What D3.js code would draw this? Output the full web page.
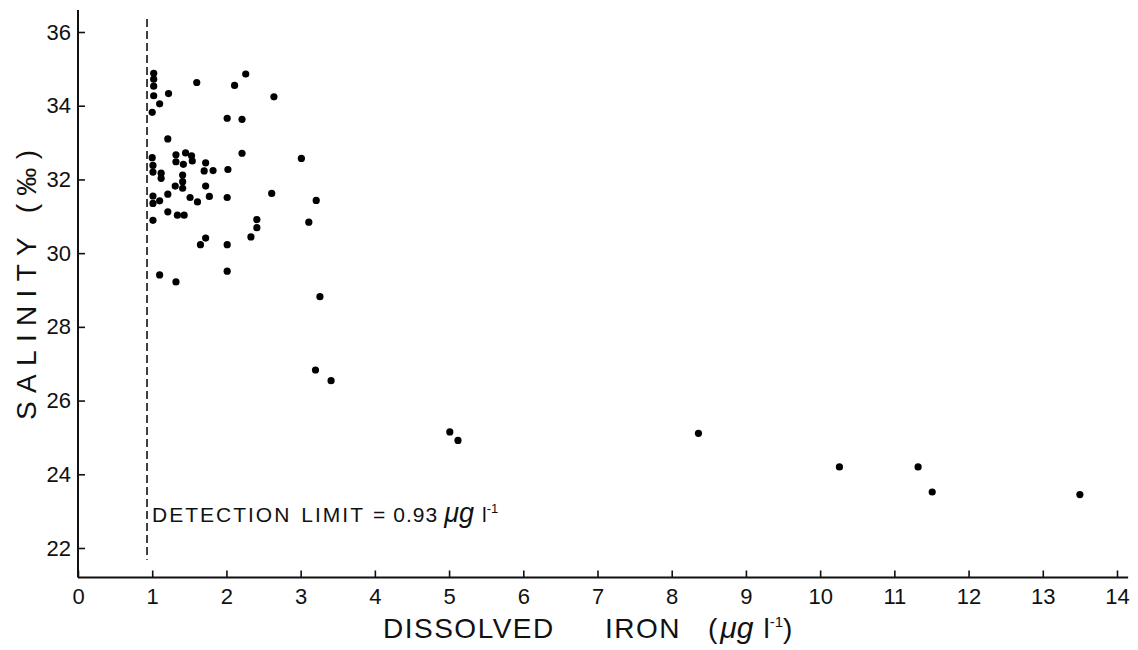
<!DOCTYPE html>
<html>
<head>
<meta charset="utf-8">
<script src="https://cdn.jsdelivr.net/npm/d3@7"></script>
<style>
  body { margin: 0; background: #fff; }
  svg { display: block; font-family: "Liberation Sans", Arial, sans-serif; }
</style>
</head>
<body>
<div id="target"></div>
<script>
// dissolved iron (ug/l) vs salinity (permil)
const ironValues = [
  1.02, 1.02, 1.02, 1.60, 2.26, 2.11, 1.02, 1.22, 1.10, 2.64,
  1.00, 2.01, 2.21, 1.21, 1.00, 1.01, 1.01, 1.32, 1.45, 1.53,
  1.54, 1.32, 1.42, 1.72, 2.21, 1.70, 1.82, 2.02, 1.12, 1.41,
  1.12, 1.41, 1.41, 1.31, 1.72, 2.61, 1.21, 1.01, 1.01, 1.10,
  1.51, 1.61, 1.77, 2.01, 1.21, 1.34, 1.43, 1.01, 2.41, 2.41,
  2.33, 1.72, 1.65, 2.01, 2.01, 1.10, 1.32, 3.01, 3.21, 3.11,
  3.26, 3.20, 3.41, 5.01, 5.12, 8.36, 10.26, 11.32, 11.51, 13.50
]
const salinityValues = [
  34.88, 34.72, 34.53, 34.63, 34.86, 34.55, 34.27, 34.33, 34.05, 34.24,
  33.82, 33.66, 33.63, 33.10, 32.59, 32.38, 32.20, 32.67, 32.72, 32.64,
  32.50, 32.48, 32.41, 32.45, 32.71, 32.23, 32.24, 32.27, 32.17, 32.12,
  32.03, 31.94, 31.76, 31.82, 31.82, 31.62, 31.60, 31.55, 31.35, 31.42,
  31.51, 31.39, 31.54, 31.51, 31.12, 31.03, 31.03, 30.89, 30.91, 30.69,
  30.44, 30.41, 30.23, 30.23, 29.51, 29.41, 29.22, 32.57, 31.43, 30.84,
  28.82, 26.83, 26.54, 25.15, 24.92, 25.11, 24.20, 24.20, 23.52, 23.45
]
const xTicks = d3.range(0, 15)
const yTicks = [22, 24, 26, 28, 30, 32, 34, 36]
const detectionLimit = 0.93

const width = 1138
const height = 650

const svg = d3.select("#target").append("svg")
    .attr("width", width)
    .attr("height", height)

const x = d3.scaleLinear().domain([0, 14]).range([78, 1117])
const y = d3.scaleLinear().domain([22, 36]).range([548, 32])

const x0 = x(0)
const yBottom = y(21.2)

//Axes
const yAxis = d3.axisLeft(y)
    .tickValues(yTicks)
    .tickSize(-7)
    .tickSizeOuter(0)
    .tickPadding(7)

const xAxis = d3.axisBottom(x)
    .tickValues(xTicks)
    .tickSize(-7)
    .tickSizeOuter(0)
    .tickPadding(11)

const gy = svg.append("g")
    .attr("transform", "translate(" + x0 + ",0)")
    .call(yAxis)
gy.select(".domain").remove()

const gx = svg.append("g")
    .attr("transform", "translate(0," + yBottom + ")")
    .call(xAxis)
gx.select(".domain").remove()

svg.selectAll(".tick line").attr("stroke", "#111").attr("stroke-width", 1.6)
svg.selectAll(".tick text")
    .attr("font-size", 22)
    .attr("fill", "#111")
    .attr("font-family", "Liberation Sans, Arial, sans-serif")

//axis lines
svg.append("line")
    .attr("x1", x0).attr("x2", x0)
    .attr("y1", yBottom).attr("y2", y(36.6))
    .attr("stroke", "#111").attr("stroke-width", 2)

svg.append("line")
    .attr("x1", x0).attr("x2", x(14.15))
    .attr("y1", yBottom).attr("y2", yBottom)
    .attr("stroke", "#111").attr("stroke-width", 2)

//Detection limit
svg.append("line")
    .attr("x1", x(detectionLimit)).attr("x2", x(detectionLimit))
    .attr("y1", y(36.35)).attr("y2", y(21.68))
    .attr("stroke", "#111")
    .attr("stroke-width", 1.6)
    .attr("stroke-dasharray", "8,4")

const det = svg.append("text")
    .attr("x", x(detectionLimit) + 5)
    .attr("y", 522)
    .attr("font-size", 21)
    .attr("fill", "#111")
det.append("tspan").attr("letter-spacing", 2).text("DETECTION")
det.append("tspan").attr("dx", 10).attr("letter-spacing", 2).text("LIMIT")
det.append("tspan").attr("dx", 8).text("=")
det.append("tspan").attr("dx", 8).attr("letter-spacing", 1).text("0.93")
det.append("tspan").attr("dx", 6).attr("font-size", 27).attr("font-style", "italic").text("μg")
det.append("tspan").attr("dx", 8).text("l")
det.append("tspan").attr("font-size", 13).attr("dy", -9).text("-1")

//Points
svg.append("g")
    .selectAll("circle")
    .data(d3.zip(ironValues, salinityValues))
    .enter()
    .append("circle")
    .attr("cx", d => x(d[0]))
    .attr("cy", d => y(d[1]))
    .attr("r", 3.6)
    .attr("fill", "#000")

//Y title
svg.append("text")
    .attr("transform", "translate(36," + 420 + ") rotate(-90)")
    .attr("font-size", 28)
    .attr("fill", "#111")
    .attr("textLength", 270)
    .attr("lengthAdjust", "spacing")
    .text("SALINITY  (‰)")

//X title
const xt = svg.append("g").attr("font-size", 28).attr("fill", "#111")
xt.append("text").attr("x", 383).attr("y", 638).attr("letter-spacing", 1.5).text("DISSOLVED")
xt.append("text").attr("x", 605).attr("y", 638).attr("letter-spacing", 1.5).text("IRON")
const unit = xt.append("text").attr("x", 708).attr("y", 638)
unit.append("tspan").text("(")
unit.append("tspan").attr("dx", 3).attr("font-size", 30).attr("font-style", "italic").text("μg")
unit.append("tspan").attr("dx", 10).text("l")
unit.append("tspan").attr("font-size", 15).attr("dy", -11).text("-1")
unit.append("tspan").attr("dy", 11).text(")")
</script>
</body>
</html>
